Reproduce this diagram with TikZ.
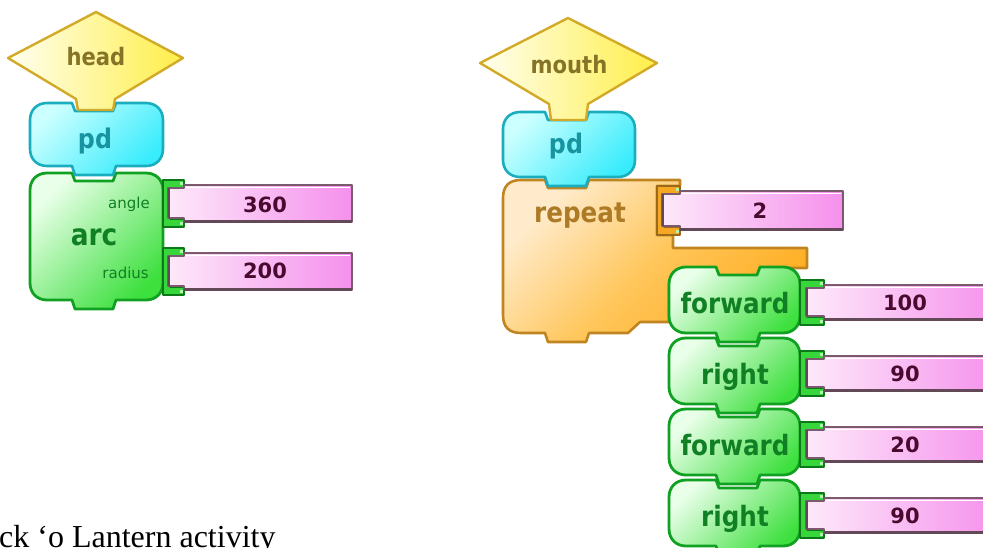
\documentclass[tikz,border=0pt]{standalone}
\usepackage{fontspec}
\setmainfont{Liberation Serif}
\newfontfamily\blockfont[FakeStretch=0.88]{DejaVu Sans}
\newfontfamily\numfont{DejaVu Sans}

% palette of the block kinds
\definecolor{hatA}{HTML}{FFFFF0}
\definecolor{hatB}{HTML}{FFEE48}
\definecolor{hatLine}{HTML}{D2AA28}
\definecolor{hatText}{HTML}{857427}
\definecolor{penA}{HTML}{CCFFFF}
\definecolor{penB}{HTML}{38ECFC}
\definecolor{penLine}{HTML}{1AADBE}
\definecolor{penText}{HTML}{17949F}
\definecolor{cmdA}{HTML}{EAFFEA}
\definecolor{cmdB}{HTML}{3EE03E}
\definecolor{cmdLine}{HTML}{10A022}
\definecolor{cmdText}{HTML}{117F24}
\definecolor{loopA}{HTML}{FFEBCB}
\definecolor{loopM}{HTML}{FFC65A}
\definecolor{loopB}{HTML}{FFAE22}
\definecolor{loopLine}{HTML}{C08420}
\definecolor{loopText}{HTML}{AD7A26}
\definecolor{argA}{HTML}{FDE9FA}
\definecolor{argB}{HTML}{F590EC}
\definecolor{argLine}{HTML}{7C5A6E}
\definecolor{argText}{HTML}{4A0A30}

% command block: style, left, top, right, bottom, notch start
\newcommand\blk[6]{%
  \path[#1] (#2,{#3+17}) .. controls (#2,{#3+7}) and ({#2+7},#3) .. ({#2+17},#3) -- (#6,#3)
    -- ({#6+3},{#3+8}) -- ({#6+41},{#3+8}) -- ({#6+44},#3)
    -- ({#4-17},#3) .. controls ({#4-7},#3) and (#4,{#3+7}) .. (#4,{#3+17})
    -- (#4,{#5-17}) .. controls (#4,{#5-7}) and ({#4-7},#5) .. ({#4-17},#5)
    -- ({#6+44},#5) -- ({#6+41},{#5+9}) -- ({#6+3},{#5+9}) -- (#6,#5)
    -- ({#2+17},#5) .. controls ({#2+7},#5) and (#2,{#5-7}) .. (#2,{#5-17}) -- cycle;}

% argument socket bracket: style, block edge, top, bottom, hook end
\newcommand\sock[5]{%
  \path[#1] (#2,#3) -- (#5,#3) -- (#5,{#3+8}) -- ({#2+7},{#3+8})
    -- ({#2+7},{#4-8}) -- (#5,{#4-8}) -- (#5,#4) -- (#2,#4) -- cycle;
  \fill[white!60!cmdB] ({#5-4},{#3+2}) rectangle ({#5-1},{#3+5});
  \fill[white!60!cmdB] ({#5-4},{#4-5}) rectangle ({#5-1},{#4-2});}

% number slot: tab start, body start, body end, socket top, socket bottom
\newcommand\slot[5]{%
  \path[argshape] (#1,{#4+8}) -- (#2,{#4+8}) -- (#2,{#4+5}) -- (#3,{#4+5})
    -- (#3,{#5-5}) -- (#2,{#5-5}) -- (#2,{#5-9}) -- (#1,{#5-9}) -- cycle;
  \draw[argLine!80!black, line width=2.4pt] (#2,{#5-5.6}) -- (#3,{#5-5.6});
  \draw[argLine!80!black, line width=2pt] ({#1+0.6},{#4+8}) -- ({#1+0.6},{#5-9});
  \draw[white, line width=1pt] ({#2+2},{#4+7.2}) -- ({#3-2},{#4+7.2});}

\begin{document}
\begin{tikzpicture}[x=1pt,y=-1pt,line join=round,
  hatshape/.style={draw=hatLine, line width=2.4pt, left color=hatA, right color=hatB},
  penshape/.style={draw=penLine, line width=2.6pt, top color=penA, bottom color=penB, shading angle=45},
  cmdshape/.style={draw=cmdLine, line width=2.8pt, top color=cmdA, bottom color=cmdB, shading angle=45},
  loopshape/.style={draw=loopLine, line width=2.6pt, top color=loopA, bottom color=loopB, middle color=loopM, shading angle=45},
  cmdsock/.style={draw=cmdLine!75!black, line width=1.4pt, fill=cmdB!85!cmdLine},
  loopsock/.style={draw=loopLine!80!black, line width=1.4pt, fill=loopB!85!loopLine},
  argshape/.style={draw=argLine, line width=1.8pt, left color=argA, right color=argB},
  lbl/.style={inner sep=0, anchor=base},
  hattext/.style={lbl, text=hatText, font=\blockfont\bfseries\fontsize{24}{26}\selectfont},
  pentext/.style={lbl, text=penText, font=\blockfont\bfseries\fontsize{27}{29}\selectfont},
  cmdtext/.style={lbl, text=cmdText, font=\blockfont\bfseries\fontsize{28}{30}\selectfont},
  looptext/.style={lbl, text=loopText, font=\blockfont\bfseries\fontsize{28}{30}\selectfont},
  argname/.style={inner sep=0, anchor=base east, text=cmdText, font=\numfont\fontsize{15}{17}\selectfont},
  numtext/.style={lbl, text=argText, font=\numfont\bfseries\fontsize{21}{23}\selectfont}]

\useasboundingbox (0,0) rectangle (983,547);
\clip (0,0) rectangle (983,547);

% ---- head procedure ----
\blk{cmdshape}{30}{173}{163}{300}{72}
\sock{cmdsock}{163}{180}{227}{184}
\sock{cmdsock}{163}{248}{295}{184}
\slot{168}{184}{352}{180}{227}
\slot{168}{184}{352}{248}{295}
\blk{penshape}{30}{103}{163}{166}{72}
\path[hatshape] (8,58) -- (96,12) -- (183,58) -- (115,99) -- (113,110)
  -- (78,110) -- (76,99) -- cycle;

\node[hattext] (headname) at (96,65) {head};
\node[pentext] (headpd) at (95,148) {pd};
\node[argname] (anglename) at (150,208) {angle};
\node[cmdtext, font=\blockfont\bfseries\fontsize{30}{32}\selectfont] (arcname) at (94,245) {arc};
\node[argname] (radiusname) at (149,278) {radius};
\node[numtext] (anglevalue) at (265,212) {360};
\node[numtext] (radiusvalue) at (265,278) {200};

% ---- mouth procedure ----
\path[loopshape] (503,198) .. controls (503,186) and (509,180) .. (521,180) -- (545,180)
  -- (548,188) -- (586,188) -- (589,180) -- (680,180) -- (680,186)
  -- (657,186) -- (657,235) -- (673,235) -- (673,248) -- (807,248)
  -- (807,268) -- (760,268) -- (757,276) -- (719,276) -- (716,268)
  -- (688,268) .. controls (675,268) and (669,274) .. (669,287) -- (669,322)
  -- (640,322) -- (628,333) -- (589,333) -- (586,342) -- (548,342)
  -- (545,333) -- (521,333) .. controls (509,333) and (503,327) .. (503,315) -- cycle;
\sock{loopsock}{657}{186}{235}{680}
\slot{662}{680}{843}{186}{235}

\blk{cmdshape}{669}{480}{800}{546}{716}
\blk{cmdshape}{669}{409}{800}{475}{716}
\blk{cmdshape}{669}{338}{800}{404}{716}
\blk{cmdshape}{669}{267}{800}{333}{716}
\foreach \t in {267,338,409,480}{
  \sock{cmdsock}{800}{\t+13}{\t+58}{824}
  \slot{806}{824}{1000}{\t+13}{\t+58}
}

\blk{penshape}{503}{112}{635}{177}{545}
\path[hatshape] (480,63) -- (568,18) -- (657,63) -- (588,104) -- (586,120)
  -- (551,120) -- (549,104) -- cycle;

\node[hattext] (mouthname) at (569,73) {mouth};
\node[pentext] (mouthpd) at (566,153) {pd};
\node[looptext] (repeatname) at (580,222) {repeat};
\node[numtext] (repeatcount) at (760,218) {2};

\node[cmdtext] (step1) at (735,313) {forward};
\node[cmdtext] (step2) at (735,384) {right};
\node[cmdtext] (step3) at (735,455) {forward};
\node[cmdtext] (step4) at (735,526) {right};
\node[numtext] (value1) at (905,310) {100};
\node[numtext] (value2) at (905,381) {90};
\node[numtext] (value3) at (905,452) {20};
\node[numtext] (value4) at (905,523) {90};

% ---- caption line ----
\node[anchor=base west, inner sep=0, font=\fontsize{32}{34}\selectfont]
  (caption) at (-1,547) {ck ‘o Lantern activity};
\end{tikzpicture}
\end{document}
